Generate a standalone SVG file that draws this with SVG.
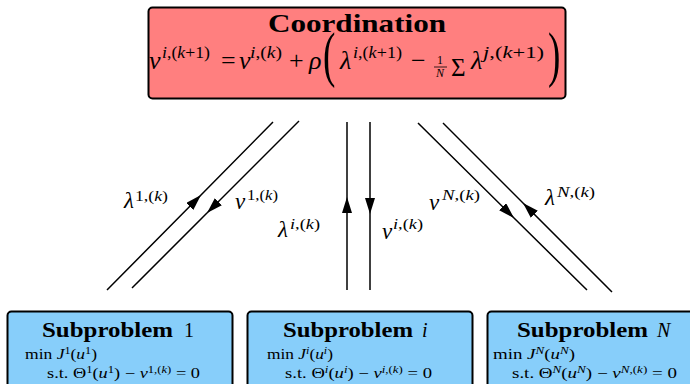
<svg xmlns="http://www.w3.org/2000/svg" width="690" height="384" viewBox="0 0 690 384">
<style>
.t{font-family:"Liberation Serif","DejaVu Serif","Times New Roman",serif;fill:#000}
.it{font-style:italic}
.b{font-weight:bold}
.m{font-size:26px}
.s{font-size:17px}
.l{font-size:23px}
.ls{font-size:15px}
.sub{font-size:14.5px}
.sup{font-size:10px}
.box1{fill:#ff7f7f;stroke:#000;stroke-width:2}
.box2{fill:#87cefa;stroke:#000;stroke-width:2}
.c{fill:none;stroke:#000;stroke-width:1.5;marker-mid:url(#ah)}
</style>
<defs>
<marker id="ah" markerUnits="userSpaceOnUse" markerWidth="16" markerHeight="10" refX="16" refY="5" orient="auto">
<path d="M0,0 L16,5 L0,10 z" fill="#000"/>
</marker>
</defs>
<rect width="690" height="384" fill="#fff"/>
<g id="coordination">
<rect class="box1" x="148.5" y="7.5" width="417" height="91" rx="4"/>
<text class="t b" x="268" y="32" font-size="26" textLength="178" lengthAdjust="spacingAndGlyphs">Coordination</text>
<text class="t it m" x="149" y="69">v</text>
<text class="t s" x="162" y="58" textLength="48" lengthAdjust="spacingAndGlyphs"><tspan class="it">i</tspan>,(<tspan class="it">k</tspan>+1)</text>
<text class="t m" x="221" y="69">=</text>
<text class="t it m" x="239" y="69">v</text>
<text class="t s" x="250" y="58" textLength="32" lengthAdjust="spacingAndGlyphs"><tspan class="it">i</tspan>,(<tspan class="it">k</tspan>)</text>
<text class="t m" x="289" y="69">+</text>
<text class="t it m" x="309" y="69">ρ</text>
<text class="t" x="0" y="0" font-size="62" transform="translate(323,75) scale(0.6,1)">(</text>
<text class="t it m" x="340" y="69">λ</text>
<text class="t s" x="353" y="58" textLength="49" lengthAdjust="spacingAndGlyphs"><tspan class="it">i</tspan>,(<tspan class="it">k</tspan>+1)</text>
<text class="t m" x="411" y="69">−</text>
<text class="t" x="440" y="64" font-size="12" text-anchor="middle">1</text>
<line x1="434" y1="67" x2="447" y2="67" stroke="#000" stroke-width="0.8"/>
<text class="t it" x="440" y="77" font-size="12" text-anchor="middle">N</text>
<text class="t" x="451" y="76" font-size="25">Σ</text>
<text class="t it m" x="471" y="69">λ</text>
<text class="t s" x="483" y="58" textLength="61" lengthAdjust="spacingAndGlyphs"><tspan class="it">j</tspan>,(<tspan class="it">k</tspan>+1)</text>
<text class="t" x="0" y="0" font-size="62" transform="translate(548,75) scale(0.6,1)">)</text>
</g>
<g id="sub1">
<rect class="box2" x="7.5" y="311.5" width="225" height="90" rx="4"/>
<text class="t b" x="42" y="337" font-size="20" textLength="131" lengthAdjust="spacingAndGlyphs">Subproblem</text>
<text class="t" x="184" y="337" font-size="20">1</text>
<text class="t sub" x="25" y="359" textLength="72" lengthAdjust="spacingAndGlyphs">min <tspan class="it">J</tspan><tspan class="sup" dy="-5">1</tspan><tspan dy="5">(</tspan><tspan class="it">u</tspan><tspan class="sup" dy="-5">1</tspan><tspan dy="5">)</tspan></text>
<text class="t sub" x="47" y="378" textLength="153" lengthAdjust="spacingAndGlyphs">s.t. Θ<tspan class="sup" dy="-5">1</tspan><tspan dy="5">(</tspan><tspan class="it">u</tspan><tspan class="sup" dy="-5">1</tspan><tspan dy="5">) − </tspan><tspan class="it">v</tspan><tspan class="sup" dy="-5">1,(<tspan class="it">k</tspan>)</tspan><tspan dy="5"> = 0</tspan></text>
</g>
<g id="subi">
<rect class="box2" x="247.5" y="311.5" width="225" height="90" rx="4"/>
<text class="t b" x="283" y="337" font-size="20" textLength="130" lengthAdjust="spacingAndGlyphs">Subproblem</text>
<text class="t it" x="422" y="337" font-size="20">i</text>
<text class="t sub" x="267" y="359" textLength="66" lengthAdjust="spacingAndGlyphs">min <tspan class="it">J</tspan><tspan class="sup it" dy="-5">i</tspan><tspan dy="5">(</tspan><tspan class="it">u</tspan><tspan class="sup it" dy="-5">i</tspan><tspan dy="5">)</tspan></text>
<text class="t sub" x="285" y="378" textLength="147" lengthAdjust="spacingAndGlyphs">s.t. Θ<tspan class="sup it" dy="-5">i</tspan><tspan dy="5">(</tspan><tspan class="it">u</tspan><tspan class="sup it" dy="-5">i</tspan><tspan dy="5">) − </tspan><tspan class="it">v</tspan><tspan class="sup" dy="-5"><tspan class="it">i</tspan>,(<tspan class="it">k</tspan>)</tspan><tspan dy="5"> = 0</tspan></text>
</g>
<g id="subN">
<rect class="box2" x="487.5" y="311.5" width="225" height="90" rx="4"/>
<text class="t b" x="517" y="337" font-size="20" textLength="131" lengthAdjust="spacingAndGlyphs">Subproblem</text>
<text class="t it" x="657" y="337" font-size="20">N</text>
<text class="t sub" x="493" y="359" textLength="82" lengthAdjust="spacingAndGlyphs">min <tspan class="it">J</tspan><tspan class="sup it" dy="-5">N</tspan><tspan dy="5">(</tspan><tspan class="it">u</tspan><tspan class="sup it" dy="-5">N</tspan><tspan dy="5">)</tspan></text>
<text class="t sub" x="512" y="378" textLength="165" lengthAdjust="spacingAndGlyphs">s.t. Θ<tspan class="sup it" dy="-5">N</tspan><tspan dy="5">(</tspan><tspan class="it">u</tspan><tspan class="sup it" dy="-5">N</tspan><tspan dy="5">) − </tspan><tspan class="it">v</tspan><tspan class="sup" dy="-5"><tspan class="it">N</tspan>,(<tspan class="it">k</tspan>)</tspan><tspan dy="5"> = 0</tspan></text>
</g>
<g id="connectors">
<path class="c" d="M107,290 L201,195 L273,122"/>
<path class="c" d="M299,121 L207,213 L132,288"/>
<path class="c" d="M347,290 L347,197 L347,122"/>
<path class="c" d="M370,122 L370,214 L370,290"/>
<path class="c" d="M418,123 L514,218 L587,290"/>
<path class="c" d="M612,292 L523,203 L443,123"/>
<text class="t it l" x="124" y="208">λ</text>
<text class="t ls" x="135" y="201" textLength="33" lengthAdjust="spacingAndGlyphs">1,(<tspan class="it">k</tspan>)</text>
<text class="t it l" x="235" y="209">v</text>
<text class="t ls" x="247" y="200" textLength="31" lengthAdjust="spacingAndGlyphs">1,(<tspan class="it">k</tspan>)</text>
<text class="t it l" x="278" y="237">λ</text>
<text class="t ls" x="290" y="229" textLength="30" lengthAdjust="spacingAndGlyphs"><tspan class="it">i</tspan>,(<tspan class="it">k</tspan>)</text>
<text class="t it l" x="382" y="239">v</text>
<text class="t ls" x="393" y="229" textLength="30" lengthAdjust="spacingAndGlyphs"><tspan class="it">i</tspan>,(<tspan class="it">k</tspan>)</text>
<text class="t it l" x="429" y="210">v</text>
<text class="t ls" x="442" y="200" textLength="38" lengthAdjust="spacingAndGlyphs"><tspan class="it">N</tspan>,(<tspan class="it">k</tspan>)</text>
<text class="t it l" x="545" y="205">λ</text>
<text class="t ls" x="557" y="197" textLength="38" lengthAdjust="spacingAndGlyphs"><tspan class="it">N</tspan>,(<tspan class="it">k</tspan>)</text>
</g>
</svg>
